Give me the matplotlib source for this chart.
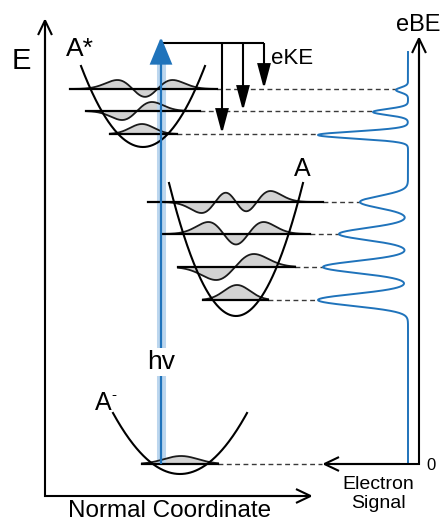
import numpy as np
import matplotlib
matplotlib.use("Agg")
import matplotlib.pyplot as plt
from matplotlib.patches import FancyArrowPatch
from numpy.polynomial.hermite import hermval

plt.rcParams['font.family'] = ['Liberation Sans', 'DejaVu Sans']

W, H = 443, 522

# potential wells: A*, A, A-  (sketch is laid out in pixel units)
well_cx = [143, 236, 180]
well_ymin = [147, 316, 474]
well_halfw = [62, 67, 67]
well_depth = [81, 133, 61]

# vibrational levels of each well (v = 0, 1, 2, ...)
astar_y = [134, 111, 89]
astar_x0 = [110, 86, 70]
astar_x1 = [177, 200, 217]
astar_cx = [142, 137, 145]
astar_sig = [12, 15, 17.5]
astar_amp = [10, 9, 9]

a_y = [300, 267, 234, 202]
a_x0 = [203, 178, 162, 148]
a_x1 = [268, 295, 310, 323]
a_cx = [237, 235, 236, 236]
a_sig = [13, 19, 17.5, 17]
a_amp = [15, 13, 12, 11]

aneg_y = [464]
aneg_x0 = [142]
aneg_x1 = [218]
aneg_cx = [181]
aneg_sig = [17]
aneg_amp = [8]

# photoelectron spectrum (peaks pointing left from the baseline)
spec_base = 408
spec_top, spec_bottom = 52, 464
peak_y = [90, 112, 135, 202, 234, 267, 300]
peak_amp = [12, 35, 90, 48, 69, 85, 90]
peak_sig = [2.5, 3.0, 3.5, 6.0, 6.0, 6.0, 6.0]

# photon / eKE arrows
hv_x = 161
eke_y = 43
eke_x = [222, 243, 264]

blue = '#1f73bb'
light_blue = '#bcd6ee'
grey_fill = '#d3d3d3'

fig = plt.figure(figsize=(W / 100, H / 100), dpi=100)
ax = fig.add_axes([0, 0, 1, 1])
ax.set_xlim(0, W)
ax.set_ylim(H, 0)
ax.axis('off')


def arrow(p0, p1, style, color='black', lw=1.5, z=3):
    ax.add_patch(FancyArrowPatch(p0, p1, arrowstyle=style, mutation_scale=1,
                                 color=color, lw=lw, shrinkA=0, shrinkB=0,
                                 zorder=z, joinstyle='miter', capstyle='butt'))


def wavefn(n, xs, cx, s):
    c = np.zeros(n + 1)
    c[n] = 1
    big = np.linspace(-6, 6, 1201)
    norm = np.abs(hermval(big, c) * np.exp(-big ** 2 / 2)).max()
    xi = (xs - cx) / s
    return hermval(xi, c) * np.exp(-xi ** 2 / 2) / norm


# wells
for cx, ym, hw, d in zip(well_cx, well_ymin, well_halfw, well_depth):
    xs = np.linspace(cx - hw, cx + hw, 200)
    ax.plot(xs, ym - d * ((xs - cx) / hw) ** 2, color='black', lw=1.5, zorder=4)

# vibrational levels + wavefunctions
level_sets = [(astar_y, astar_x0, astar_x1, astar_cx, astar_sig, astar_amp),
              (a_y, a_x0, a_x1, a_cx, a_sig, a_amp),
              (aneg_y, aneg_x0, aneg_x1, aneg_cx, aneg_sig, aneg_amp)]
for lv in level_sets:
    for v, (y, x0, x1, cx, s, amp) in enumerate(zip(*lv)):
        xs = np.linspace(x0, x1, 300)
        yw = y - amp * wavefn(v, xs, cx, s)
        ax.fill_between(xs, y, yw, color=grey_fill, lw=0, zorder=2)
        ax.plot(xs, yw, color='#1a1a1a', lw=1.3, zorder=3)
        ax.plot([x0, x1], [y, y], color='black', lw=1.6, zorder=3)

# spectrum
ys = np.linspace(spec_top, spec_bottom, 2000)
xs = np.full_like(ys, spec_base, dtype=float)
for py, pa, ps in zip(peak_y, peak_amp, peak_sig):
    xs -= pa * np.exp(-(ys - py) ** 2 / (2 * ps ** 2))
ax.plot(xs, ys, color=blue, lw=1.4, zorder=3)

# dashed connectors from levels to spectrum peaks
lv_y = astar_y + a_y
lv_x1 = astar_x1 + a_x1
for y, x1 in zip(lv_y, lv_x1):
    k = peak_y.index(min(peak_y, key=lambda p: abs(p - y)))
    ax.plot([x1, spec_base - peak_amp[k]], [y, y], color='#3a3a3a', lw=1.0,
            dashes=(3.5, 2.5), zorder=1)
ax.plot([aneg_x1[0], 322], [aneg_y[0], aneg_y[0]], color='#3a3a3a', lw=1.0,
        dashes=(3.5, 2.5), zorder=1)

# axes (main and spectrum)
chev = '->,head_length=10.5,head_width=5'
ax.plot([45, 45, 300], [30, 496, 496], color='black', lw=1.5,
        solid_joinstyle='miter', zorder=3)
arrow((45, 300), (45, 18), chev)
arrow((200, 496), (313, 496), chev)
ax.plot([335, 419, 419], [464, 464, 50], color='black', lw=1.5,
        solid_joinstyle='miter', zorder=3)
arrow((419, 200), (419, 36), chev)
arrow((400, 464), (322, 464), chev)

# photon arrow
ax.plot([hv_x, hv_x], [464, 60], color=light_blue, lw=6.5,
        solid_capstyle='butt', zorder=2.5)
arrow((hv_x, 464), (hv_x, 37), '-|>,head_length=17,head_width=7', color=blue,
      lw=1.6, z=5)

# eKE arrows
ax.plot([hv_x + 2, eke_x[-1]], [eke_y, eke_y], color='black', lw=1.5,
        solid_capstyle='butt', zorder=3)
for x, y in zip(eke_x, astar_y):
    arrow((x, eke_y), (x, y), '-|>,head_length=15,head_width=4')

# labels
ax.text(21, 61, 'E', fontsize=21, ha='center', va='center')
ax.text(66, 49, 'A*', fontsize=19, ha='left', va='center')
ax.text(302, 169, 'A', fontsize=18, ha='center', va='center')
ax.text(103, 403, 'A', fontsize=18, ha='center', va='center')
ax.text(114, 395, '-', fontsize=11, ha='center', va='center')
ax.text(hv_x, 362, 'hv', fontsize=19, ha='center', va='center', zorder=6,
        bbox=dict(facecolor='white', edgecolor='none', pad=1.5))
ax.text(271, 59, 'eKE', fontsize=16, ha='left', va='center')
ax.text(418, 25, 'eBE', fontsize=17, ha='center', va='center')
ax.text(431, 465, '0', fontsize=12, ha='center', va='center')
ax.text(378, 494, 'Electron\nSignal', fontsize=14, ha='center', va='center',
        linespacing=1.1)
ax.text(170, 511, 'Normal Coordinate', fontsize=17.5, ha='center', va='center')

fig.savefig('out.png', dpi=100)
